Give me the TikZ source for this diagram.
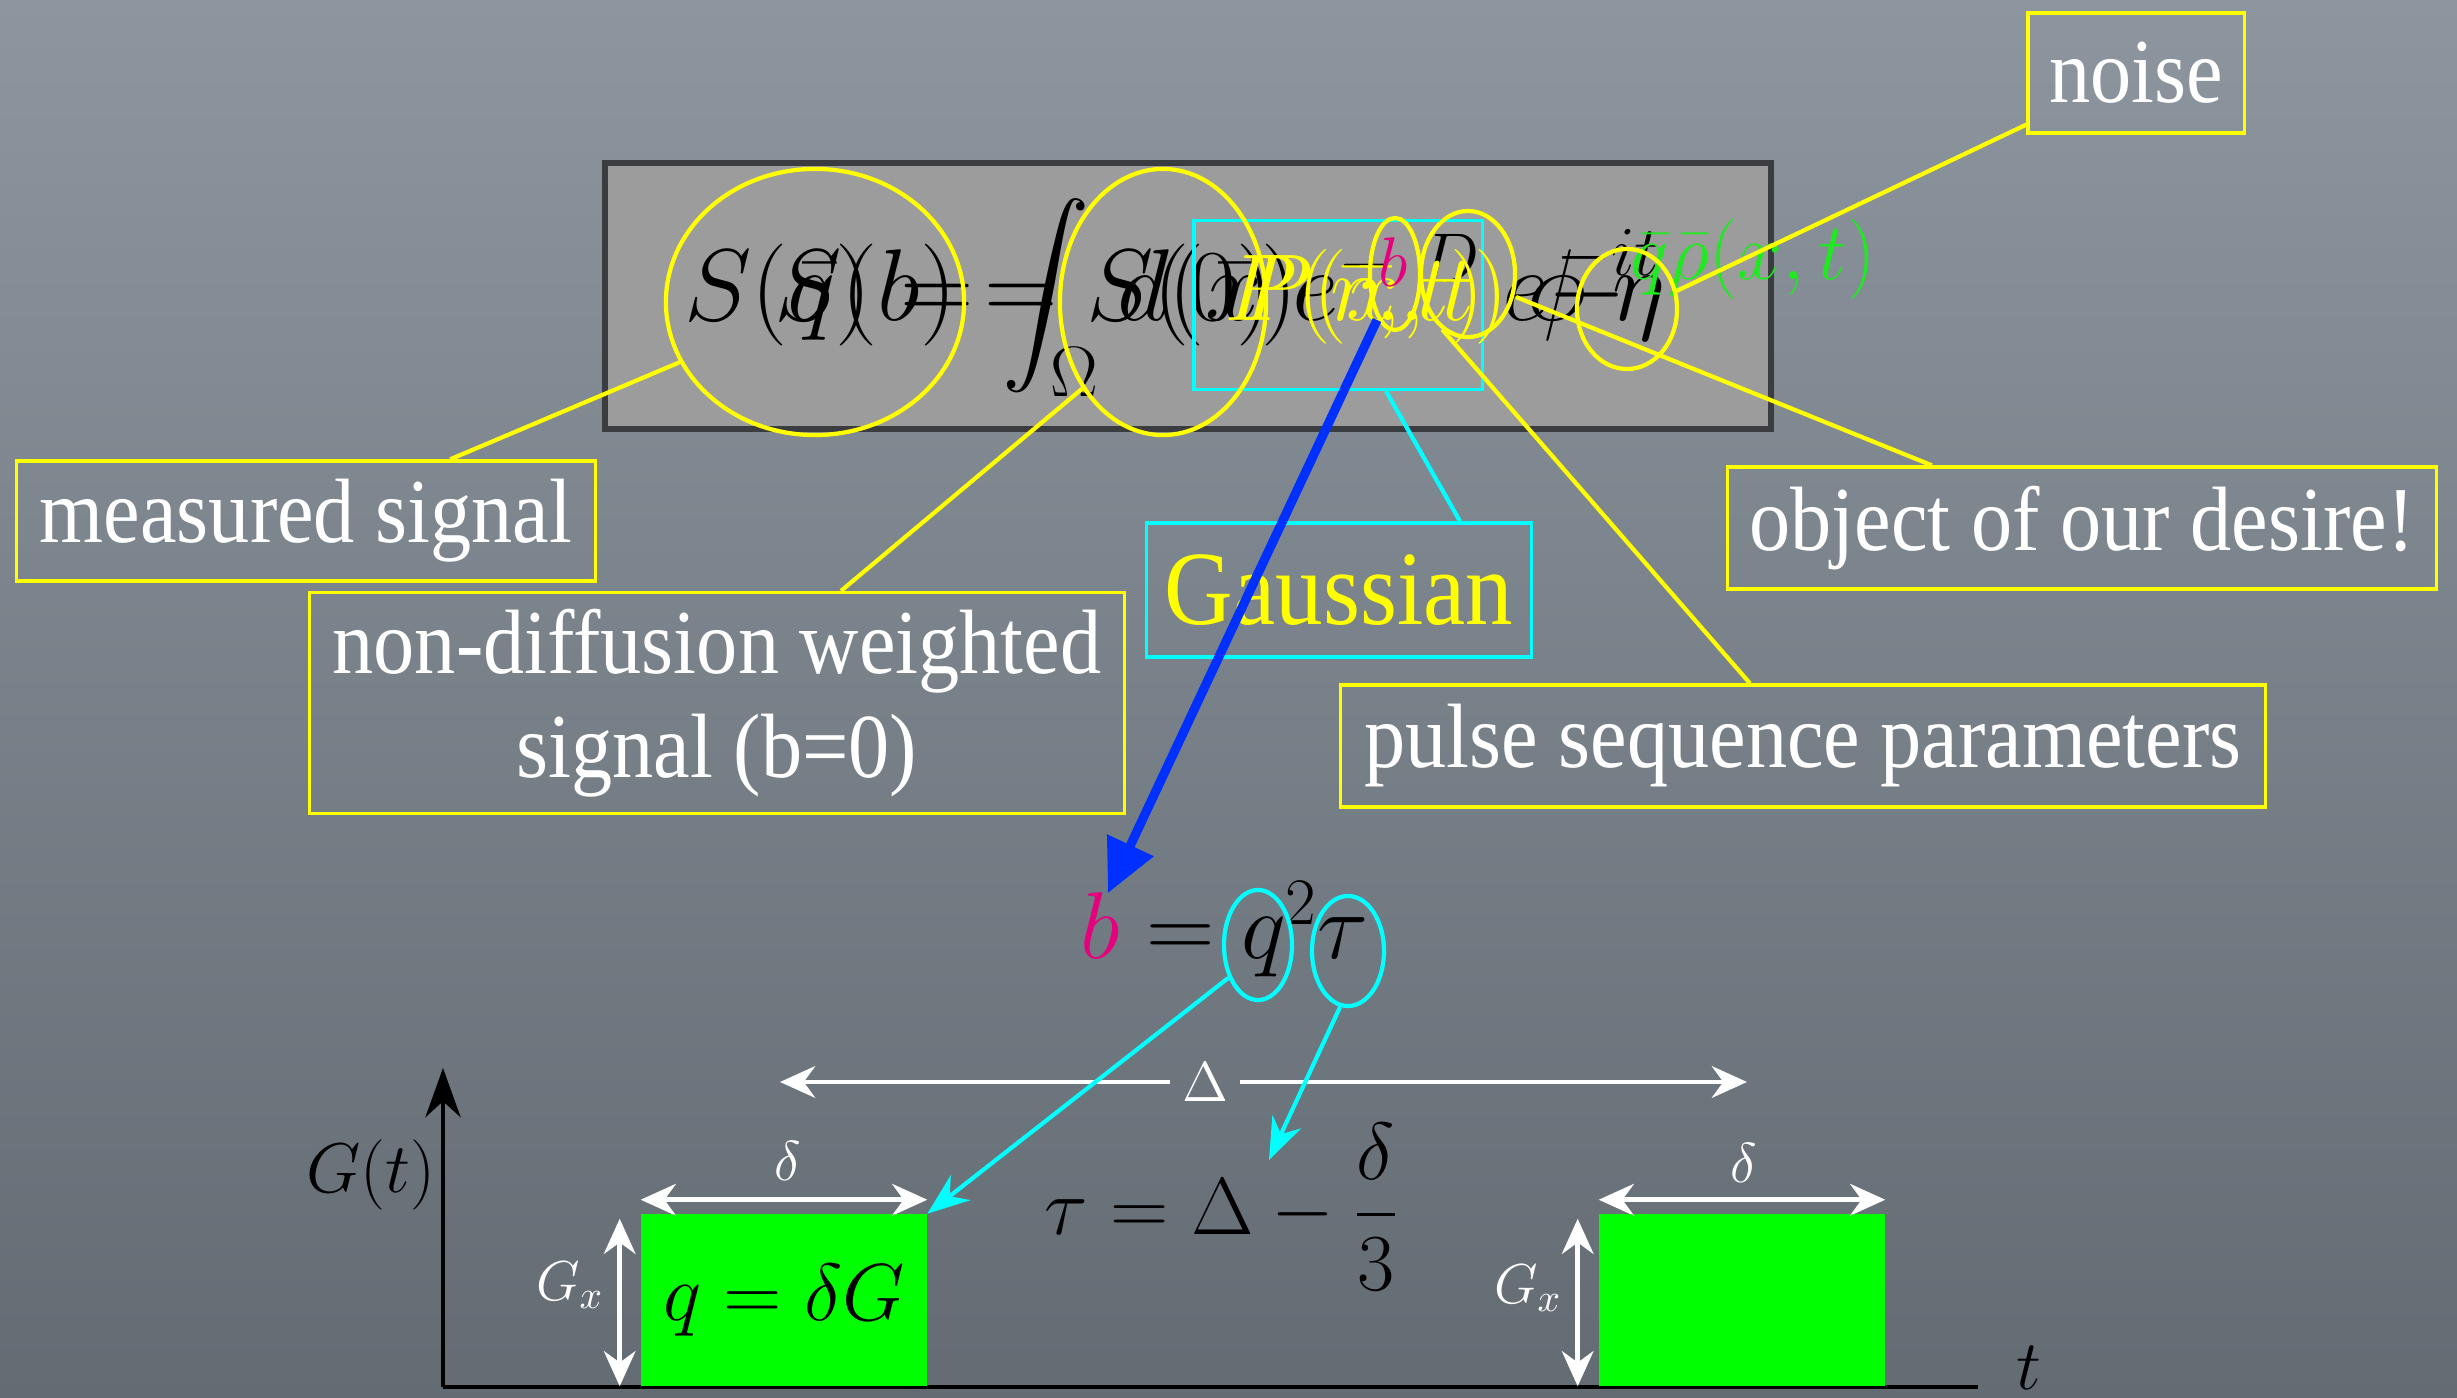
\RequirePackage{fix-cm}
\documentclass[tikz,border=0pt]{standalone}
\usepackage{amsmath}
\usepackage{fontspec}
\setmainfont{Liberation Serif}[FakeStretch=0.9]
\usetikzlibrary{positioning,shapes.geometric,arrows.meta}
\definecolor{slidetop}{RGB}{141,150,158}
\definecolor{slidebot}{RGB}{99,107,115}
\definecolor{hiyellow}{RGB}{255,255,0}
\definecolor{hicyan}{RGB}{0,255,255}
\definecolor{pulsegreen}{RGB}{0,255,0}
\definecolor{eqgreen}{RGB}{30,235,30}
\definecolor{bmagenta}{RGB}{230,0,126}
\definecolor{arrowblue}{RGB}{0,48,255}
\definecolor{eqgray}{RGB}{156,156,156}
\definecolor{eqframe}{RGB}{58,60,63}
\tikzset{
  note/.style={draw=hiyellow, line width=0.9pt, text=white, align=center,
    font=\fontsize{26}{29.5}\selectfont, inner sep=0pt},
  ring/.style={ellipse, draw=hiyellow, line width=1.2pt, inner sep=0pt},
  cring/.style={ellipse, draw=hicyan, line width=1.2pt, inner sep=0pt},
  lead/.style={hiyellow, line width=1.2pt},
  clead/.style={hicyan, line width=1.2pt},
  dimarrow/.style={white, line width=1.3pt, {Stealth[length=10pt,width=9pt]}-{Stealth[length=10pt,width=9pt]}},
  pulse/.style={fill=pulsegreen, minimum width=2.85cm, minimum height=1.71cm, inner sep=0pt},
  dimlabel/.style={text=white, font=\fontsize{16}{18}\selectfont},
  bigmath/.style={font=\fontsize{29}{34}\selectfont, anchor=base west},
  supmath/.style={font=\fontsize{20}{24}\selectfont},
}

\begin{document}
\begin{tikzpicture}[x=0.01cm, y=-0.01cm]
\fill[top color=slidetop, bottom color=slidebot] (0,0) rectangle (2457,1398);
\useasboundingbox (0,0) rectangle (2457,1398);

% the overlaid signal equation
\node[draw=eqframe, line width=1.7pt, fill=eqgray, minimum width=11.65cm, minimum height=2.66cm] (eqbox) at (1188,296) {};
\node[bigmath] (eqq) at (672,321) {$S(\bar q)=\displaystyle\int_\Omega d(\bar x)$};
\node[bigmath] (eqb) at (762,321) {$S(b)=S(0)$};
\node[bigmath] (eqe) at (1280,321) {$e^{-}$};
\node[supmath] (eqd) at (1450,258) {$D$};
\node[bigmath] (eqe2) at (1490,321) {$e$};
\node[bigmath] (eqphi) at (1515,321) {$\phi$};
\node[bigmath] (eqminus) at (1535,321) {$-$};
\node[supmath] (eqit) at (1608,255) {$-it$};
\node[bigmath] (eqeta) at (1600,321) {$\eta$};
\node[draw=hicyan, line width=0.9pt, minimum width=2.88cm, minimum height=1.69cm] (gbox) at (1338,305) {};
\node[bigmath, text=hiyellow, font=\fontsize{27}{32}\selectfont] (eqp) at (1212,321) {$P(\bar r,t)$};
\node[bigmath, text=hiyellow, font=\fontsize{27}{32}\selectfont] (eqpx) at (1228,321) {$P(\bar x,t)$};
\node[supmath, text=bmagenta] (bsup) at (1393,262) {$b$};
\node[bigmath, text=eqgreen, font=\fontsize{23}{28}\selectfont] (eqrho) at (1618,280) {$\bar q\bar\rho(x,t)$};

\node[ring, minimum width=2.98cm, minimum height=2.66cm] (e1) at (815,302) {};
\node[ring, minimum width=2.06cm, minimum height=2.66cm] (e2) at (1163,302) {};
\node[ring, minimum width=0.50cm, minimum height=1.12cm] (e3) at (1395,274) {};
\node[ring, minimum width=0.94cm, minimum height=1.26cm] (e4) at (1468,274) {};
\node[ring, minimum width=1.00cm, minimum height=1.20cm] (e5) at (1627,309) {};
\coordinate (expo) at (1516,297);
\coordinate (bstart) at (1377,320);

% labels
\node[note, minimum width=2.16cm, minimum height=1.20cm] (noise) at (2136,73) {noise};
\node[note, minimum width=5.78cm, minimum height=1.20cm] (measured) at (306,521) {measured signal};
\node[note, minimum width=8.15cm, minimum height=2.21cm] (nondiff) at (717,703) {non-diffusion weighted\\signal (b=0)};
\node[note, draw=hicyan, text=hiyellow, font=\fontsize{30}{34}\selectfont, minimum width=3.84cm, minimum height=1.34cm] (gauss) at (1339,590) {Gaussian};
\node[note, minimum width=7.09cm, minimum height=1.22cm] (desire) at (2082,528) {object of our desire!};
\node[note, minimum width=9.25cm, minimum height=1.22cm] (params) at (1803,746) {pulse sequence parameters};

\draw[lead] ([xshift=1.44cm]measured.north) -- (e1.204);
\draw[lead] ([xshift=1.24cm]nondiff.north) -- (e2.227);
\draw[lead] ([yshift=0.1cm]noise.south west) -- (e5.20);
\draw[lead] ([xshift=-1.5cm]desire.north) -- (expo);
\draw[lead] ([xshift=-0.53cm]params.north) -- (e4.245);
\draw[clead] ([xshift=1.21cm]gauss.north) -- ([xshift=0.48cm]gbox.south);

% b = q^2 tau
\node[bigmath, font=\fontsize{27}{32}\selectfont] (beq) at (1068,959) {${\color{bmagenta}b}=q^2\tau$};
\coordinate (btip) at (1108,893);
\draw[arrowblue, line width=2.6pt, -{Triangle[length=15pt,width=14pt]}] (bstart) -- (btip);
\node[cring, minimum width=0.68cm, minimum height=1.10cm] (cq) at (1258,945) {};
\node[cring, minimum width=0.72cm, minimum height=1.10cm] (ct) at (1348,951) {};

% gradient pulses
\coordinate (orig) at (443,1387);
\coordinate (ytop) at (443,1068);
\coordinate (xend) at (1978,1387);
\draw[line width=1.4pt, -{Stealth[length=14pt,width=10pt]}] (orig) -- (ytop);
\draw[line width=1.4pt] (orig) -- (xend);
\node[font=\fontsize{20}{24}\selectfont] (gt) at (371,1175) {$G(t)$};
\node[font=\fontsize{20}{24}\selectfont] (tl) at (2029,1368) {$t$};

\node[pulse] (pulse1) at (784,1300) {\fontsize{23}{28}\selectfont$q=\delta G$};
\node[pulse] (pulse2) at (1742,1300) {};
\draw[dimarrow] ([yshift=0.14cm]pulse1.north west) -- ([yshift=0.14cm]pulse1.north east);
\draw[dimarrow] ([yshift=0.14cm]pulse2.north west) -- ([yshift=0.14cm]pulse2.north east);
\node[dimlabel] (d1) at (788,1161) {$\delta$};
\node[dimlabel] (d2) at (1744,1163) {$\delta$};
\draw[dimarrow] ([xshift=-0.21cm]pulse1.south west) -- ([xshift=-0.21cm,yshift=-0.05cm]pulse1.north west);
\draw[dimarrow] ([xshift=-0.21cm]pulse2.south west) -- ([xshift=-0.21cm,yshift=-0.05cm]pulse2.north west);
\node[dimlabel] (gx1) at (570,1285) {$G_x$};
\node[dimlabel] (gx2) at (1528,1288) {$G_x$};

\node[dimlabel] (dlab) at (1205,1082) {$\Delta$};
\coordinate (dl) at (780,1082);
\coordinate (dr) at (1747,1082);
\draw[white, line width=1.3pt, -{Stealth[length=10pt,width=9pt]}] (dlab) -- (dl);
\draw[white, line width=1.3pt, -{Stealth[length=10pt,width=9pt]}] (dlab) -- (dr);

\node[font=\fontsize{23}{28}\selectfont] (taueq) at (1222,1207) {$\tau=\Delta-\dfrac{\delta}{3}$};
\coordinate (tautip) at (1269,1160);
\draw[clead, -{Stealth[length=12pt,width=9pt]}] (cq.228) -- (pulse1.north east);
\draw[clead, -{Stealth[length=12pt,width=9pt]}] (ct.262) -- (tautip);
\end{tikzpicture}
\end{document}
